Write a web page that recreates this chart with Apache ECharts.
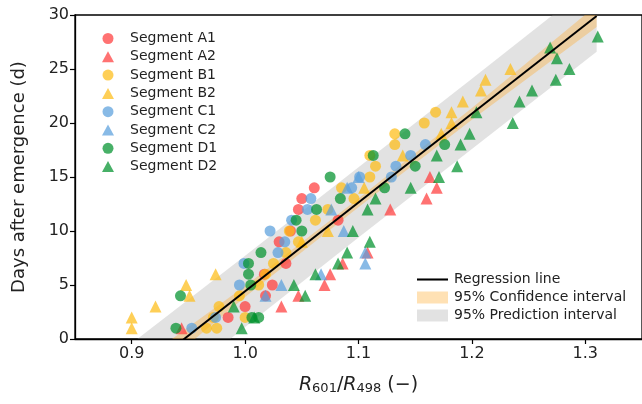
<!DOCTYPE html>
<html>
<head>
<meta charset="utf-8">
<style>
  html, body { margin: 0; padding: 0; background: #fff; }
  #chart { width: 642px; height: 404px; }
</style>
<script src="https://cdn.jsdelivr.net/npm/echarts@6.0.0/dist/echarts.min.js"></script>
</head>
<body>
<div id="chart"></div>
<script>
// scatter data: [R601/R498, days]
const segA1 = [[0.985, 2], [1.0, 3], [1.018, 4], [1.024, 5], [1.017, 6], [1.036, 7], [1.03, 9], [1.04, 10],
  [1.082, 11], [1.047, 12], [1.05, 13], [1.061, 14]];
const segA2 = [[0.944, 1], [1.032, 3], [1.047, 4], [1.07, 5], [1.075, 6], [1.086, 7], [1.108, 8],
  [1.128, 12], [1.16, 13], [1.169, 14], [1.163, 15]];
const segB1 = [[0.966, 1], [0.975, 1], [0.972, 2], [1.0, 2], [0.977, 3], [0.995, 4], [1.012, 5], [1.018, 6],
  [1.025, 7], [1.036, 8], [1.047, 9], [1.039, 10], [1.062, 11], [1.073, 12], [1.096, 13], [1.085, 14],
  [1.11, 15], [1.115, 16], [1.11, 17], [1.132, 18], [1.132, 19], [1.158, 20], [1.168, 21]];
const segB2 = [[0.9, 1], [0.9, 2], [0.921, 3], [0.951, 4], [0.948, 5], [0.974, 6], [1.05, 9], [1.073, 10],
  [1.105, 14], [1.139, 17], [1.173, 19], [1.182, 20], [1.182, 21], [1.192, 22], [1.208, 23], [1.212, 24], [1.234, 25]];
const segC1 = [[0.953, 1], [0.974, 2], [0.995, 5], [0.999, 7], [1.029, 8], [1.035, 9], [1.022, 10],
  [1.041, 11], [1.055, 12], [1.058, 13], [1.094, 14], [1.101, 15], [1.129, 15], [1.133, 16], [1.146, 17], [1.159, 18]];
const segC2 = [[1.018, 4], [1.032, 5], [1.067, 6], [1.106, 7], [1.106, 8], [1.087, 10], [1.076, 12],
  [1.09, 14], [1.1, 15]];
const segD1 = [[0.939, 1], [1.006, 2], [1.012, 2], [0.943, 4], [1.005, 5], [1.003, 6], [1.003, 7], [1.014, 8],
  [1.05, 10], [1.045, 11], [1.063, 12], [1.084, 13], [1.123, 14], [1.075, 15], [1.15, 16], [1.113, 17],
  [1.176, 18], [1.141, 19]];
const segD2 = [[0.997, 1], [1.008, 2], [0.99, 3], [1.053, 4], [1.043, 5], [1.062, 6], [1.082, 7], [1.09, 8],
  [1.11, 9], [1.095, 10], [1.108, 12], [1.115, 13], [1.146, 14], [1.171, 15], [1.187, 16], [1.169, 17],
  [1.19, 18], [1.198, 19], [1.236, 20], [1.204, 21], [1.242, 22], [1.253, 23], [1.274, 24], [1.286, 25],
  [1.275, 26], [1.269, 27], [1.311, 28]];

// regression line and bands
const regLine = [[0.90, -3.8], [1.31, 29.9]];
const bandX = [0.90, 1.00, 1.10, 1.20, 1.31];
const confLow = [-4.9, 3.9, 12.2, 20.3, 28.9];
const confHigh = [-2.7, 4.9, 13.0, 21.4, 30.9];
const predLow = [-7.3, 1.1, 9.4, 17.6, 26.6];
const predHigh = [-0.4, 7.7, 15.9, 24.1, 33.2];

const xTicks = [0.9, 1.0, 1.1, 1.2, 1.3];

const FONT = "DejaVu Sans";
const CONF_COLOR = "rgba(255,170,40,0.35)";
const PRED_COLOR = "rgba(150,150,150,0.28)";

const chart = echarts.init(document.getElementById("chart"), null, { renderer: "canvas" });

function scatter(name, data, symbol, color) {
  return {
    name, type: "scatter", data, symbol, symbolSize: symbol === "triangle" ? 12 : 11,
    itemStyle: { color, opacity: 0.72 }, z: 3,
  };
}

function band(name, low, high, color, z) {
  return {
    name, type: "custom", z, clip: true,
    itemStyle: { color },
    data: [0],
    renderItem: (params, api) => {
      const pts = [];
      bandX.forEach((x, i) => pts.push(api.coord([x, low[i]])));
      for (let i = bandX.length - 1; i >= 0; i--) pts.push(api.coord([bandX[i], high[i]]));
      return {
        type: "polygon",
        shape: { points: pts },
        style: { fill: color },
      };
    },
  };
}

const option = {
  animation: false,
  backgroundColor: "#fff",
  textStyle: { fontFamily: FONT },
  grid: {
    left: 75, top: 15, right: -3, bottom: 65,
    show: true, borderColor: "#000", borderWidth: 1.3,
  },
  legend: [
    {
      orient: "vertical", left: 97, top: 26.5,
      itemWidth: 12, itemHeight: 11, itemGap: 4.3,
      textStyle: { fontFamily: FONT, fontSize: 14, color: "#222", padding: [0, 0, 0, 11] },
      data: ["Segment A1", "Segment A2", "Segment B1", "Segment B2",
        "Segment C1", "Segment C2", "Segment D1", "Segment D2"],
    },
    {
      orient: "vertical", left: 412, top: 267.5,
      itemWidth: 31, itemHeight: 12, itemGap: 4,
      textStyle: { fontFamily: FONT, fontSize: 14, color: "#222", padding: [0, 0, 0, 1] },
      data: [
        { name: "Regression line", icon: "path://M0,0 L30,0 L30,2 L0,2 Z", itemStyle: { color: "#000" } },
        { name: "95% Confidence interval", icon: "rect", itemStyle: { color: CONF_COLOR } },
        { name: "95% Prediction interval", icon: "rect", itemStyle: { color: PRED_COLOR } },
      ],
    },
  ],
  xAxis: {
    type: "value", min: 0.85, max: 1.35,
    name: "{i|R}{s|601}{n|/}{i|R}{s|498}{n| (−)}",
    nameLocation: "middle", nameGap: 30,
    nameTextStyle: {
      fontFamily: FONT, color: "#222",
      rich: {
        i: { fontFamily: FONT, fontStyle: "italic", fontSize: 19, color: "#222", lineHeight: 26, verticalAlign: "bottom" },
        s: { fontFamily: FONT, fontSize: 13, color: "#222", lineHeight: 18, verticalAlign: "bottom" },
        n: { fontFamily: FONT, fontSize: 19, color: "#222", lineHeight: 26, verticalAlign: "bottom" },
      },
    },
    axisLine: { lineStyle: { color: "#000", width: 1.3 } },
    axisTick: { show: true, length: 5, lineStyle: { color: "#000", width: 1.2 }, customValues: xTicks },
    axisLabel: {
      fontFamily: FONT, fontSize: 16, color: "#222", margin: 7,
      customValues: xTicks, formatter: v => v.toFixed(1),
    },
    splitLine: { show: false },
  },
  yAxis: {
    type: "value", min: 0, max: 30, interval: 5,
    name: "Days after emergence (d)",
    nameLocation: "middle", nameGap: 47,
    nameTextStyle: { fontFamily: FONT, fontSize: 18, color: "#222" },
    axisLine: { show: true, lineStyle: { color: "#000", width: 1.3 } },
    axisTick: { show: true, length: 5, lineStyle: { color: "#000", width: 1.2 } },
    axisLabel: { fontFamily: FONT, fontSize: 16, color: "#222", margin: 6 },
    splitLine: { show: false },
  },
  series: [
    band("95% Prediction interval", predLow, predHigh, PRED_COLOR, 1),
    band("95% Confidence interval", confLow, confHigh, CONF_COLOR, 2),
    scatter("Segment A1", segA1, "circle", "#ff3b3b"),
    scatter("Segment A2", segA2, "triangle", "#ff3b3b"),
    scatter("Segment B1", segB1, "circle", "#fdbd16"),
    scatter("Segment B2", segB2, "triangle", "#fdbd16"),
    scatter("Segment C1", segC1, "circle", "#5aa0dc"),
    scatter("Segment C2", segC2, "triangle", "#5aa0dc"),
    scatter("Segment D1", segD1, "circle", "#00912c"),
    scatter("Segment D2", segD2, "triangle", "#00912c"),
    {
      name: "Regression line", type: "line", data: regLine,
      symbol: "none", showSymbol: false, clip: true, z: 5,
      lineStyle: { color: "#000", width: 2 },
      itemStyle: { color: "#000" },
    },
  ],
};

chart.setOption(option);
</script>
</body>
</html>
